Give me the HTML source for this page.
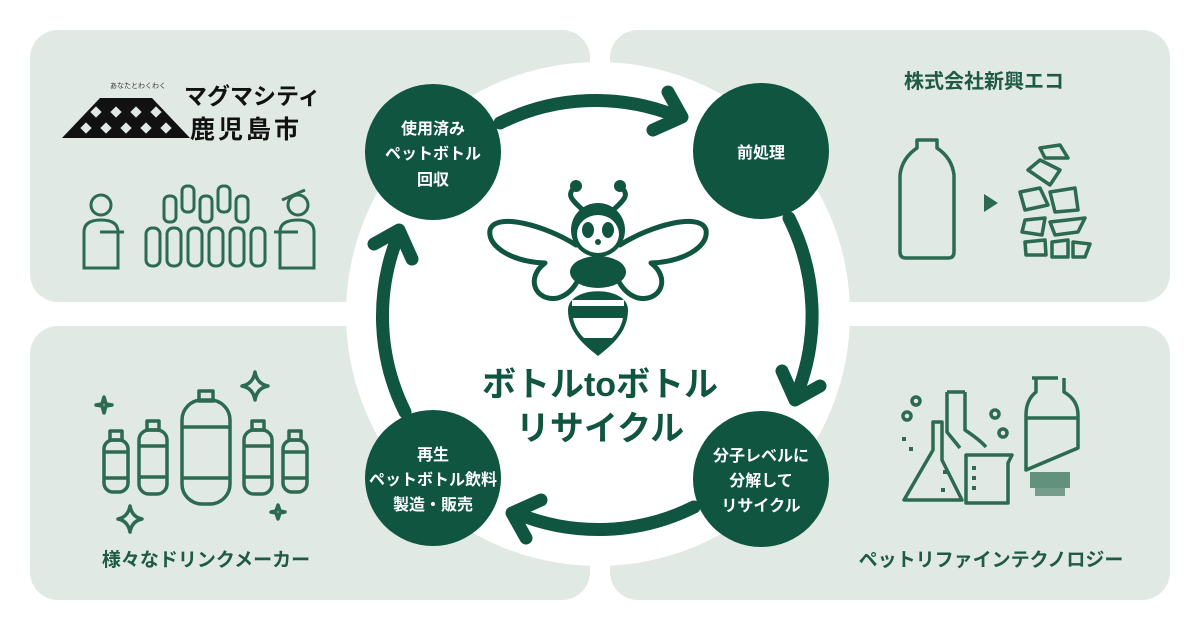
<!DOCTYPE html>
<html><head><meta charset="utf-8"><style>
html,body{margin:0;padding:0;background:#fff;}
svg{display:block;font-family:"Liberation Sans","Noto Sans CJK JP",sans-serif;}
</style></head><body>
<svg width="1200" height="630" viewBox="0 0 1200 630" xmlns="http://www.w3.org/2000/svg">
<g fill="#e1e9e4">
<rect x="30" y="30" width="560" height="272" rx="28"/>
<rect x="610" y="30" width="560" height="272" rx="28"/>
<rect x="30" y="326" width="560" height="274" rx="28"/>
<rect x="610" y="326" width="560" height="274" rx="28"/>
</g>
<circle cx="598" cy="314" r="252" fill="#fff"/>

<!-- arcs -->
<g fill="none" stroke="#0f5540" stroke-width="13" stroke-linecap="round" stroke-linejoin="round">
<path d="M500,123 A215,215 0 0 1 676,116"/>
<polyline points="668,92 682,117 653,130"/>
<path d="M789,218 A215,215 0 0 1 797,394"/>
<polyline points="820,386 795,400 782,371"/>
<path d="M694,507 A215,215 0 0 1 518,514"/>
<polyline points="526,538 512,513 541,500"/>
<path d="M405,412 A215,215 0 0 1 398,236"/>
<polyline points="374,244 399,230 412,259"/>
</g>

<!-- nodes -->
<g fill="#0f5540">
<circle cx="433" cy="152" r="68"/>
<circle cx="761" cy="151" r="68"/>
<circle cx="761" cy="479" r="68"/>
<circle cx="433" cy="478" r="68"/>
</g>
<g fill="#fff" font-size="16" font-weight="bold" text-anchor="middle">
<text x="433" y="134">使用済み</text>
<text x="433" y="159">ペットボトル</text>
<text x="433" y="185">回収</text>
<text x="761" y="158">前処理</text>
<text x="761" y="461">分子レベルに</text>
<text x="761" y="486">分解して</text>
<text x="761" y="511">リサイクル</text>
<text x="433" y="460">再生</text>
<text x="433" y="485">ペットボトル飲料</text>
<text x="433" y="510">製造・販売</text>
</g>

<!-- bee -->
<g fill="none" stroke="#0f5540" stroke-width="5" stroke-linejoin="round" stroke-linecap="round">
<path d="M585,212 C572,200 565,195 576,186 M611,212 C624,200 631,195 620,186"/>
<path d="M576,245 C545,225 495,212 490,230 C487,248 515,262 545,263 C525,278 535,302 558,298 C568,295 574,288 578,280"/>
<path d="M620,245 C651,225 701,212 706,230 C709,248 681,262 651,263 C671,278 661,302 638,298 C628,295 622,288 618,280"/>
</g>
<g fill="#0f5540">
<circle cx="576" cy="186" r="6"/><circle cx="620" cy="186" r="6"/>
<circle cx="598" cy="230" r="27"/>
<ellipse cx="598" cy="272" rx="28" ry="16"/>
<path d="M568,310 C568,285 628,285 628,310 C628,332 612,345 598,356 C584,345 568,332 568,310Z"/>
</g>
<g fill="#fff">
<ellipse cx="598" cy="234" rx="21" ry="19"/>
<path d="M572,300 L624,300 L624,306 L572,306Z"/>
<path d="M573,318 L623,318 C621,328 616,334 612,338 L584,338 C580,334 575,328 573,318Z"/>
</g>
<g fill="#0f5540">
<ellipse cx="588" cy="230" rx="6" ry="8"/><ellipse cx="608" cy="230" rx="6" ry="8"/>
<circle cx="598" cy="242" r="3"/>
</g>

<g fill="#0f5540" font-size="34" font-weight="bold" text-anchor="middle">
<text x="600" y="396">ボトルtoボトル</text>
<text x="600" y="440">リサイクル</text>
</g>

<!-- TL panel -->
<path d="M62,138 L100,98 L152,98 L190,138Z" fill="#111"/>
<g fill="#e1e9e4">
<rect x="92" y="108" width="8" height="8" transform="rotate(45 96 112)"/>
<rect x="112" y="108" width="8" height="8" transform="rotate(45 116 112)"/>
<rect x="132" y="108" width="8" height="8" transform="rotate(45 136 112)"/>
<rect x="152" y="108" width="8" height="8" transform="rotate(45 156 112)"/>
<rect x="82" y="124" width="8" height="8" transform="rotate(45 86 128)"/>
<rect x="102" y="124" width="8" height="8" transform="rotate(45 106 128)"/>
<rect x="122" y="124" width="8" height="8" transform="rotate(45 126 128)"/>
<rect x="142" y="124" width="8" height="8" transform="rotate(45 146 128)"/>
<rect x="162" y="124" width="8" height="8" transform="rotate(45 166 128)"/>
</g>
<text x="110" y="88" font-size="7" fill="#333">あなたとわくわく</text>
<g fill="#111" font-weight="bold"><text x="184" y="104" font-size="23">マグマシティ</text><text x="190" y="138" font-size="25" letter-spacing="3">鹿児島市</text></g>
<g fill="none" stroke="#2c6b52" stroke-width="3">
<circle cx="101" cy="205" r="10"/><path d="M84,268 V232 Q84,220 101,220 Q118,220 118,232 V268 Z M100,232 H124"/>
<circle cx="298" cy="205" r="10"/><path d="M282,200 L305,190 M280,268 V232 Q280,220 298,220 Q314,220 314,232 V268 Z M274,232 H298"/>
<g>
<rect x="146" y="228" width="14" height="38" rx="6"/><rect x="167" y="228" width="14" height="38" rx="6"/><rect x="188" y="228" width="14" height="38" rx="6"/><rect x="209" y="228" width="14" height="38" rx="6"/><rect x="230" y="228" width="14" height="38" rx="6"/><rect x="251" y="228" width="14" height="38" rx="6"/>
<rect x="164" y="196" width="12" height="26" rx="5"/><rect x="182" y="186" width="12" height="26" rx="5"/><rect x="200" y="196" width="12" height="26" rx="5"/><rect x="218" y="186" width="12" height="26" rx="5"/><rect x="236" y="196" width="12" height="26" rx="5"/>
</g>
</g>

<!-- TR panel -->
<text x="984" y="88" font-size="20" font-weight="bold" fill="#1e5a45" text-anchor="middle">株式会社新興エコ</text>
<g fill="none" stroke="#2c6b52" stroke-width="3.5" stroke-linejoin="round">
<path d="M917,140 H937 V148 Q952,158 954,175 V252 Q954,258 948,258 H906 Q900,258 900,252 V175 Q902,158 917,148Z"/>
<path d="M1028,170 L1040,160 L1060,170 L1050,185Z M1020,192 L1040,188 L1048,205 L1025,210Z M1050,192 L1075,188 L1078,210 L1055,212Z M1025,220 L1045,218 L1042,235 L1022,232Z M1050,222 L1085,218 L1078,232 L1055,235Z M1025,242 L1045,240 L1046,255 L1026,255Z M1052,242 L1068,240 L1068,257 L1052,257Z M1073,242 L1090,244 L1085,257 L1073,257Z M1040,148 L1060,145 L1068,158 L1045,158Z"/>
</g>
<path d="M984,194 L998,203 L984,212Z" fill="#2c6b52"/>

<!-- BR panel -->
<g fill="none" stroke="#2c6b52" stroke-width="3.5" stroke-linejoin="round">
<circle cx="916" cy="401" r="4"/><circle cx="907" cy="416" r="4"/><circle cx="995" cy="414" r="4"/><circle cx="1003" cy="433" r="4"/>
<path d="M933,422 V450 L904,500 H962 L942,460 V422Z"/>
<path d="M947,392 V432 L960,448 M965,392 V430 Q980,440 986,447 M947,392 H965"/>
<path d="M966,455 H1012 L1008,463 V503 H966Z"/>
<path d="M1032,378 H1058 M1036,378 V392 Q1026,400 1026,415 V470 L1078,448 V415 Q1078,400 1064,392 V378 M1026,418 H1078"/>
</g>
<g fill="#2c6b52">
<rect x="902" y="437" width="4" height="4"/><rect x="909" y="447" width="4" height="4"/><rect x="941" y="488" width="4" height="4"/><rect x="943" y="470" width="4" height="4"/><rect x="972" y="466" width="4" height="4"/><rect x="972" y="476" width="4" height="4"/><rect x="972" y="486" width="4" height="4"/>
<rect x="1030" y="472" width="40" height="16" opacity=".7"/><rect x="1035" y="488" width="30" height="8" opacity=".6"/>
</g>
<text x="991" y="566" font-size="19" font-weight="bold" fill="#1e5a45" text-anchor="middle">ペットリファインテクノロジー</text>

<!-- BL panel -->
<g fill="none" stroke="#2c6b52" stroke-width="3.5" stroke-linejoin="round">
<rect x="104" y="440" width="24" height="52" rx="9"/><rect x="110" y="431" width="12" height="9"/>
<rect x="139" y="430" width="28" height="64" rx="10"/><rect x="147" y="421" width="12" height="9"/>
<rect x="182" y="400" width="48" height="104" rx="20"/><rect x="199" y="391" width="14" height="10"/>
<rect x="244" y="430" width="28" height="64" rx="10"/><rect x="252" y="421" width="12" height="9"/>
<rect x="283" y="440" width="24" height="52" rx="9"/><rect x="289" y="431" width="12" height="9"/>
<path d="M182,427 H230 M182,478 H230 M139,446 H167 M139,477 H167 M244,446 H272 M244,477 H272 M104,452 H128 M104,478 H128 M283,452 H307 M283,478 H307"/>
<path d="M255,372 Q257,384 268,386 Q257,388 255,400 Q253,388 242,386 Q253,384 255,372Z"/>
<path d="M130,506 Q132,517 142,519 Q132,521 130,532 Q128,521 118,519 Q128,517 130,506Z"/>
<path d="M104,397 L106,404 L112,405 L106,406 L104,413 L102,406 L96,405 L102,404Z"/>
<path d="M278,505 L280,511 L285,512 L280,513 L278,519 L276,513 L271,512 L276,511Z"/>
</g>
<text x="206" y="566" font-size="19" font-weight="bold" fill="#1e5a45" text-anchor="middle">様々なドリンクメーカー</text>
</svg>
</body></html>
